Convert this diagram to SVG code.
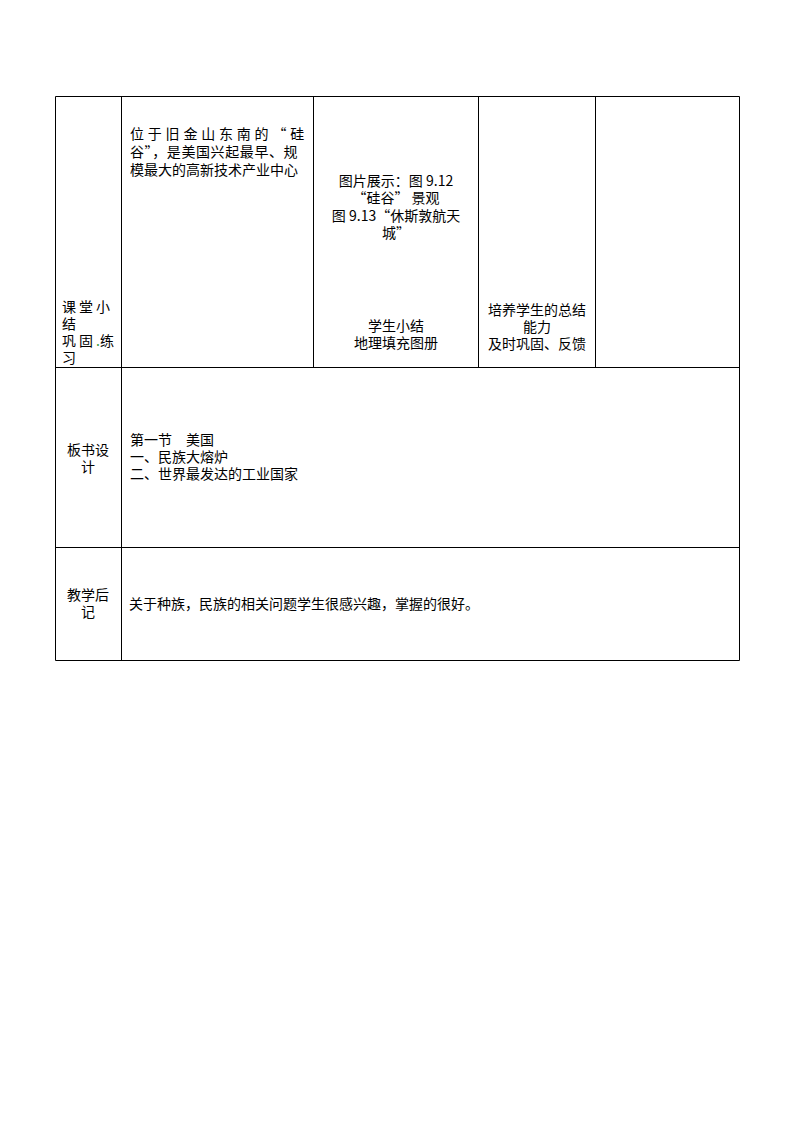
<svg xmlns="http://www.w3.org/2000/svg" width="794" height="1123" viewBox="0 0 794 1123">
<style>
  .t { font-family: "Noto Sans CJK SC", "Liberation Sans", sans-serif; font-size: 14px; fill: #000; }
  .c { text-anchor: middle; }
  .grid line { stroke: #000; stroke-width: 1; }
</style>
<rect x="0" y="0" width="794" height="1123" fill="#fff"/>
<g id="grid" class="grid">
  <line x1="55.5" y1="96.5" x2="739.5" y2="96.5"/>
  <line x1="55.5" y1="367.5" x2="739.5" y2="367.5"/>
  <line x1="55.5" y1="547.5" x2="739.5" y2="547.5"/>
  <line x1="55.5" y1="660.5" x2="739.5" y2="660.5"/>
  <line x1="55.5" y1="96.5" x2="55.5" y2="660.5"/>
  <line x1="739.5" y1="96.5" x2="739.5" y2="660.5"/>
  <line x1="121.5" y1="96.5" x2="121.5" y2="660.5"/>
  <line x1="313.5" y1="96.5" x2="313.5" y2="367.5"/>
  <line x1="478.5" y1="96.5" x2="478.5" y2="367.5"/>
  <line x1="595.5" y1="96.5" x2="595.5" y2="367.5"/>
</g>
<g id="cell-r1-label">
  <text class="t"><tspan x="62" y="312" letter-spacing="3">课堂小</tspan><tspan x="62" y="329">结</tspan><tspan x="62" y="346" letter-spacing="3">巩固</tspan><tspan fill="#3a9a3a">.</tspan><tspan>练</tspan><tspan x="62" y="363">习</tspan></text>
</g>
<g id="cell-r1-content">
  <text class="t"><tspan x="130" y="139" letter-spacing="3.8">位于旧金山东南的“硅</tspan><tspan x="130" y="157" letter-spacing="0.6">谷”，是美国兴起最早、规</tspan><tspan x="130" y="175">模最大的高新技术产业中心</tspan></text>
</g>
<g id="cell-r1-activity">
  <text class="t c"><tspan x="396" y="186">图片展示：图 9.12</tspan><tspan x="396" y="203">“硅谷” 景观</tspan><tspan x="396" y="221">图 9.13“休斯敦航天</tspan><tspan x="396" y="238">城”</tspan></text>
  <text class="t c"><tspan x="396" y="331">学生小结</tspan><tspan x="396" y="348">地理填充图册</tspan></text>
</g>
<g id="cell-r1-purpose">
  <text class="t c"><tspan x="537" y="315">培养学生的总结</tspan><tspan x="537" y="332">能力</tspan><tspan x="537" y="349">及时巩固、反馈</tspan></text>
</g>
<g id="cell-r1-extra"></g>
<g id="cell-r2-label">
  <text class="t c"><tspan x="88" y="455">板书设</tspan><tspan x="88" y="472">计</tspan></text>
</g>
<g id="cell-r2-content">
  <text class="t"><tspan x="130" y="445">第一节　美国</tspan><tspan x="130" y="462">一、民族大熔炉</tspan><tspan x="130" y="479">二、世界最发达的工业国家</tspan></text>
</g>
<g id="cell-r3-label">
  <text class="t c"><tspan x="88" y="600">教学后</tspan><tspan x="88" y="617">记</tspan></text>
</g>
<g id="cell-r3-content">
  <text class="t" x="129" y="609">关于种族，民族的相关问题学生很感兴趣，掌握的很好。</text>
</g>
</svg>
